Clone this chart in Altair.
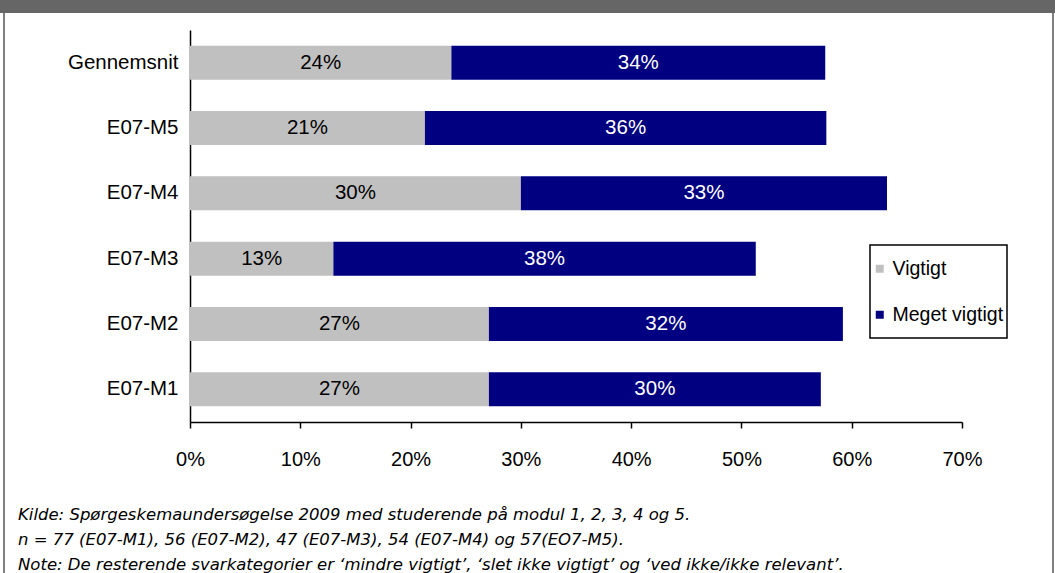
import altair as alt
import pandas as pd

categories = ["Gennemsnit", "E07-M5", "E07-M4", "E07-M3", "E07-M2", "E07-M1"]
vigtigt = [23.7, 21.3, 30.0, 13.0, 27.1, 27.1]
meget_vigtigt = [33.9, 36.4, 33.2, 38.3, 32.1, 30.1]
series = ["Vigtigt", "Meget vigtigt"]
colors = ["#C0C0C0", "#000080"]
x_ticks = [0, 0.1, 0.2, 0.3, 0.4, 0.5, 0.6, 0.7]
footer = [
    "Kilde: Spørgeskemaundersøgelse 2009 med studerende på modul 1, 2, 3, 4 og 5.",
    "n = 77 (E07-M1), 56 (E07-M2), 47 (E07-M3), 54 (E07-M4) og 57(EO7-M5).",
    "Note: De resterende svarkategorier er ‘mindre vigtigt’, ‘slet ikke vigtigt’ og ‘ved ikke/ikke relevant’.",
]

rows = []
for c, v, m in zip(categories, vigtigt, meget_vigtigt):
    rows.append({"cat": c, "serie": series[0], "start": 0, "end": v / 100, "mid": v / 200,
                 "label": f"{round(v)}%", "ord": 0, "tc": "black"})
    rows.append({"cat": c, "serie": series[1], "start": v / 100, "end": (v + m) / 100,
                 "mid": (v + m / 2) / 100, "label": f"{round(m)}%", "ord": 1, "tc": "white"})
df = pd.DataFrame(rows)

W, H = 772, 392
PL, PT = 190, 30
FONT = "Liberation Sans"

ycat = alt.Y("cat:N", sort=categories, title=None,
             scale=alt.Scale(paddingInner=0.48, paddingOuter=0.24),
             axis=alt.Axis(ticks=False, labelPadding=12, labelFontSize=20.5, labelFont=FONT,
                           labelColor="black", domainColor="black", domainWidth=1.5))

bars = alt.Chart(df).mark_bar().encode(
    x=alt.X("start:Q", title=None,
            scale=alt.Scale(domain=[0, 0.7], nice=False),
            axis=alt.Axis(values=x_ticks, format=".0%", grid=False, tickSize=6,
                          tickColor="black", domainColor="black", domainWidth=1.5, tickWidth=1.5,
                          labelFontSize=20, labelFont=FONT, labelColor="black", labelPadding=21,
                          labelFlush=False)),
    x2="end:Q",
    y=ycat,
    color=alt.Color("serie:N", sort=series,
                    scale=alt.Scale(domain=series, range=colors),
                    legend=alt.Legend(title=None, orient="none", legendX=680, legendY=229,
                                      padding=0, labelFontSize=19.5,
                                      labelFont=FONT, labelColor="black", symbolType="square",
                                      symbolSize=64, rowPadding=25, labelOffset=3,
                                      symbolStrokeWidth=0, labelLimit=300)),
    order=alt.Order("ord:Q"),
)

labels = alt.Chart(df).mark_text(fontSize=20.5, font=FONT).encode(
    x=alt.X("mid:Q"),
    y=alt.Y("cat:N", sort=categories),
    text="label:N",
    color=alt.Color("tc:N", scale=None),
)

one = pd.DataFrame({"a": [0]})
band = alt.Chart(one).mark_rect(color="#666666").encode(
    x=alt.value(-PL), x2=alt.value(1055 - PL), y=alt.value(-PT), y2=alt.value(13 - PT))
left_border = alt.Chart(one).mark_rule(color="black", strokeWidth=1).encode(
    x=alt.value(4 - PL), y=alt.value(13 - PT), y2=alt.value(573 - PT))
right_border = alt.Chart(one).mark_rule(color="black", strokeWidth=1).encode(
    x=alt.value(1053 - PL), y=alt.value(13 - PT), y2=alt.value(573 - PT))
legend_box = alt.Chart(one).mark_rect(fill=None, stroke="black", strokeWidth=1.5).encode(
    x=alt.value(870 - PL), x2=alt.value(1007 - PL), y=alt.value(245 - PT), y2=alt.value(338 - PT))

foot_layers = []
for i, line in enumerate(footer):
    foot_layers.append(
        alt.Chart(one).mark_text(
            text=line, align="left", baseline="middle", font="DejaVu Sans",
            fontStyle="italic", fontSize=16.5, color="black").encode(
            x=alt.value(18 - PL), y=alt.value(515 + i * 25 - PT)))

chart = alt.layer(band, left_border, right_border, bars, labels, legend_box, *foot_layers).properties(
    width=W, height=H,
    background="white",
    autosize=alt.AutoSizeParams(type="none"),
    padding={"left": PL, "top": PT, "right": 1055 - PL - W, "bottom": 573 - PT - H},
).configure_view(stroke=None)

chart.save("out.html", embed_options={"renderer": "svg", "actions": False})
